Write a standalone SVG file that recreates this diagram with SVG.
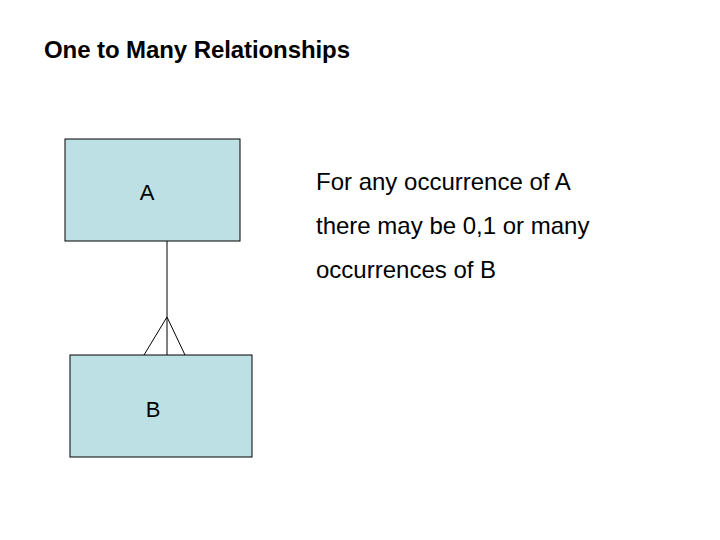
<svg xmlns="http://www.w3.org/2000/svg" width="720" height="540" viewBox="0 0 720 540">
<style>
.box{fill:#bde0e4;stroke:#000;stroke-width:1}
.t{font-family:"Liberation Sans",Arial,sans-serif;fill:#000}
.c{stroke:#000;stroke-width:1;fill:none}
</style>
<rect width="720" height="540" fill="#fff"/>
<text class="t" x="44" y="58" font-size="24" font-weight="bold" textLength="306">One to Many Relationships</text>
<g id="nodeA"><rect class="box" x="65" y="139" width="175" height="102"/><text class="t" x="147" y="200" font-size="22" text-anchor="middle">A</text></g>
<g id="nodeB"><rect class="box" x="70" y="355" width="182" height="102"/><text class="t" x="153" y="417" font-size="22" text-anchor="middle">B</text></g>
<g id="connectors"><path class="c" d="M167 241V355M167 317L144 355M167 317L185 355"/></g>
<g id="note" class="t" font-size="24">
<text x="316" y="190">For any occurrence of A</text>
<text x="316" y="234">there may be 0,1 or many</text>
<text x="316" y="278">occurrences of B</text>
</g>
</svg>
